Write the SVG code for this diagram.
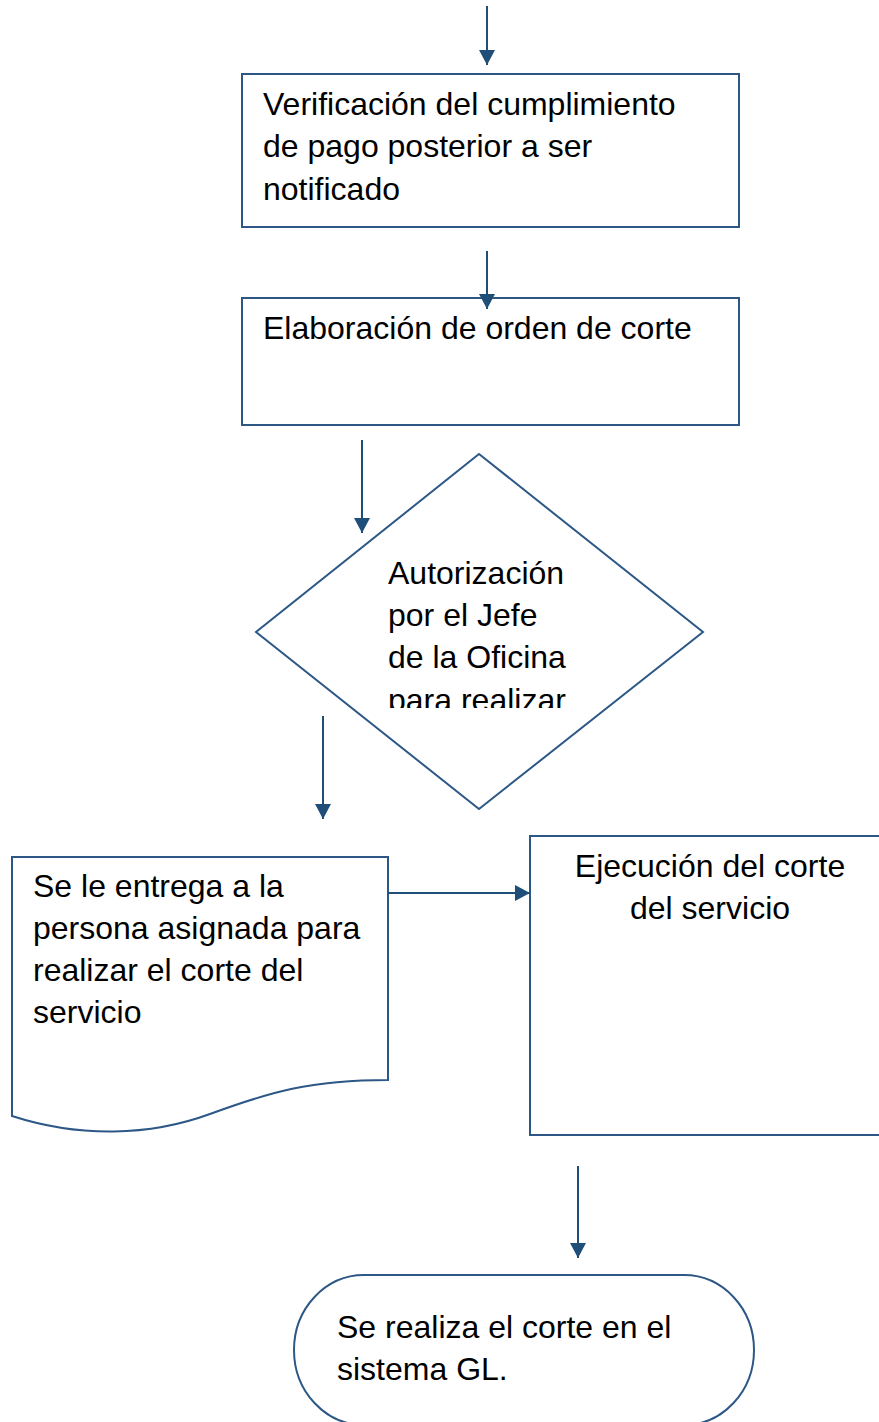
<svg xmlns="http://www.w3.org/2000/svg" width="879" height="1422" viewBox="0 0 879 1422">
<style>
.shape{fill:#fff;stroke:#2d5886;stroke-width:2}
.conn{fill:none;stroke:#1f4e79;stroke-width:2}
.t{font-family:"Liberation Sans",Arial,sans-serif;font-size:32px;fill:#000}
</style>
<defs>
<marker id="ah" markerUnits="userSpaceOnUse" markerWidth="16" markerHeight="16" refX="15" refY="8" orient="auto">
<path d="M0,0 L15,8 L0,16 Z" fill="#1f4e79"/>
</marker>
<clipPath id="dclip"><rect x="370" y="540" width="220" height="168"/></clipPath>
</defs>
<rect width="879" height="1422" fill="#fff"/>
<g id="n1">
<rect class="shape" x="242" y="74" width="497" height="153"/>
<text class="t" x="263" y="115">Verificación del cumplimiento</text>
<text class="t" x="263" y="157">de pago posterior a ser</text>
<text class="t" x="263" y="200">notificado</text>
</g>
<g id="n2">
<rect class="shape" x="242" y="298" width="497" height="127"/>
<text class="t" x="263" y="339">Elaboración de orden de corte</text>
</g>
<g id="n3">
<polygon class="shape" points="479,454 703,632 479,809 256,632"/>
<g clip-path="url(#dclip)">
<text class="t" x="388" y="584">Autorización</text>
<text class="t" x="388" y="626">por el Jefe</text>
<text class="t" x="388" y="668">de la Oficina</text>
<text class="t" x="388" y="711">para realizar</text>
</g>
</g>
<g id="n4">
<path class="shape" d="M12,857 L388,857 L388,1080 C310,1080 270,1092 210,1114 C150,1136 80,1138 12,1116 Z"/>
<text class="t" x="33" y="897">Se le entrega a la</text>
<text class="t" x="33" y="939">persona asignada para</text>
<text class="t" x="33" y="981">realizar el corte del</text>
<text class="t" x="33" y="1023">servicio</text>
</g>
<g id="n5">
<rect class="shape" x="530" y="836" width="360" height="299"/>
<text class="t" x="710" y="877" text-anchor="middle">Ejecución del corte</text>
<text class="t" x="710" y="919" text-anchor="middle">del servicio</text>
</g>
<g id="n6">
<path class="shape" d="M364,1275 L684,1275 A70,75 0 0 1 684,1425 L364,1425 A70,75 0 0 1 364,1275 Z"/>
<text class="t" x="337" y="1338">Se realiza el corte en el</text>
<text class="t" x="337" y="1380">sistema GL.</text>
</g>
<g id="connectors">
<line class="conn" x1="487" y1="6" x2="487" y2="65" marker-end="url(#ah)"/>
<line class="conn" x1="487" y1="251" x2="487" y2="309" marker-end="url(#ah)"/>
<line class="conn" x1="362" y1="440" x2="362" y2="533" marker-end="url(#ah)"/>
<line class="conn" x1="323" y1="716" x2="323" y2="819" marker-end="url(#ah)"/>
<line class="conn" x1="388" y1="893" x2="530" y2="893" marker-end="url(#ah)"/>
<line class="conn" x1="578" y1="1166" x2="578" y2="1258" marker-end="url(#ah)"/>
</g>
</svg>
